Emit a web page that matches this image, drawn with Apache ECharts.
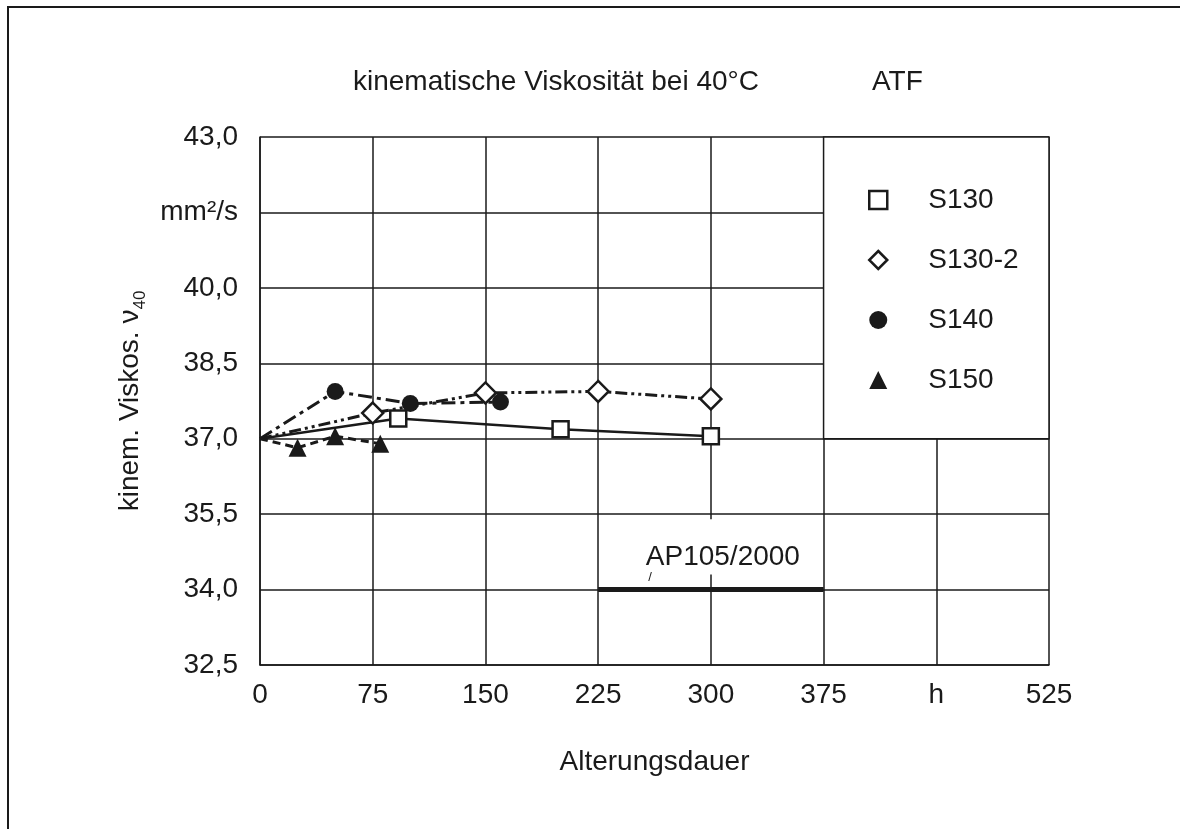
<!DOCTYPE html>
<html>
<head>
<meta charset="utf-8">
<script src="https://cdn.jsdelivr.net/npm/echarts@6/dist/echarts.min.js"></script>
<style>
  html, body { margin: 0; padding: 0; background: #fff; }
  #chart { width: 1180px; height: 829px; }
</style>
</head>
<body>
<div id="chart"></div>
<script>
// Ageing time (h) vs. kinematic viscosity at 40 °C (mm²/s)
const xTicks = [0, 75, 150, 225, 300, 375, 450, 525];
const yTicks = [32.5, 34.0, 35.5, 37.0, 38.5, 40.0, 41.5, 43.0];

const s130   = [[0, 37.0], [92, 37.40], [200, 37.19], [300, 37.05]];
const s130_2 = [[0, 37.0], [75, 37.51], [150, 37.91], [225, 37.94], [300, 37.79]];
const s140   = [[0, 37.0], [50, 37.94], [100, 37.70], [160, 37.73]];
const s150   = [[0, 37.0], [25, 36.82], [50, 37.05], [80, 36.90]];

// reference limit AP105/2000: 34.0 mm²/s between 225 h and 375 h
const apLimit = [[225, 34.0], [375, 34.0]];
const apName = 'AP105/2000';

const INK = '#1a1a1a';
const FONT = 'Liberation Sans, Arial, sans-serif';
const FS = 28;

const chart = echarts.init(document.getElementById('chart'), null, { renderer: 'canvas' });

function fmtY(v) {
  if (Math.abs(v - 41.5) < 1e-6) return 'mm²/s';
  return v.toFixed(1).replace('.', ',');
}
function fmtX(v) {
  if (v === 450) return 'h';
  return String(v);
}
// the common start value (fresh oil, 0 h) is drawn without a marker
function withBarePoint(points) {
  return points.map((p, i) => (i === 0 ? { value: p, symbol: 'none' } : p));
}

const lineBase = { type: 'line', smooth: false, z: 3 };

chart.setOption({
  animation: false,
  backgroundColor: '#fff',
  textStyle: { fontFamily: FONT, color: INK },
  graphic: [{
    type: 'rect',
    shape: { x: 8, y: 7, width: 1300, height: 1000 },
    style: { fill: 'none', stroke: INK, lineWidth: 2 },
    silent: true
  }],
  title: [
    { text: 'kinematische Viskosität bei 40°C', left: 348, top: 63,
      textStyle: { fontFamily: FONT, fontSize: FS, fontWeight: 'normal', color: INK } },
    { text: 'ATF', left: 867, top: 63,
      textStyle: { fontFamily: FONT, fontSize: FS, fontWeight: 'normal', color: INK } }
  ],
  grid: { left: 260, top: 137, right: 131, bottom: 164, containLabel: false },
  legend: {
    orient: 'vertical',
    left: 863,
    top: 181,
    itemWidth: 18,
    itemHeight: 18,
    itemGap: 32,
    textStyle: { fontFamily: FONT, fontSize: FS, color: INK, padding: [0, 0, 0, 36], lineHeight: 28 },
    data: [
      { name: 'S130', icon: 'rect', itemStyle: { color: '#fff', borderColor: INK, borderWidth: 2.5 } },
      { name: 'S130-2', icon: 'diamond', itemStyle: { color: '#fff', borderColor: INK, borderWidth: 2.5 } },
      { name: 'S140', icon: 'circle', itemStyle: { color: INK, borderWidth: 0 } },
      { name: 'S150', icon: 'triangle', itemStyle: { color: INK, borderWidth: 0 } }
    ]
  },
  xAxis: {
    type: 'value',
    min: xTicks[0], max: xTicks[xTicks.length - 1], interval: 75,
    name: 'Alterungsdauer',
    nameLocation: 'middle',
    nameGap: 83,
    nameTextStyle: { fontFamily: FONT, fontSize: FS, color: INK },
    axisLine: { show: true, lineStyle: { color: INK, width: 1.5 } },
    axisTick: { show: false },
    axisLabel: { formatter: fmtX, margin: 16, fontFamily: FONT, fontSize: FS, color: INK },
    splitLine: { show: true, lineStyle: { color: INK, width: 1.5 } }
  },
  yAxis: {
    type: 'value',
    min: yTicks[0], max: yTicks[yTicks.length - 1], interval: 1.5,
    name: '{a|kinem. Viskos. ν}{s|40}',
    nameLocation: 'middle',
    nameGap: 116,
    nameRotate: 90,
    nameTextStyle: {
      rich: {
        a: { fontFamily: FONT, fontSize: FS, color: INK, lineHeight: 34, verticalAlign: 'bottom' },
        s: { fontFamily: FONT, fontSize: 17, color: INK, lineHeight: 34, verticalAlign: 'bottom', padding: [0, 0, -5, 0] }
      }
    },
    axisLine: { show: true, lineStyle: { color: INK, width: 1.5 } },
    axisTick: { show: false },
    axisLabel: { formatter: fmtY, margin: 22, fontFamily: FONT, fontSize: FS, color: INK },
    splitLine: { show: true, lineStyle: { color: INK, width: 1.5 } }
  },
  series: [
    {
      name: apName,
      type: 'line',
      data: apLimit,
      symbol: 'none',
      z: 2,
      lineStyle: { color: INK, width: 5, type: 'solid' },
      silent: true,
      markArea: {
        silent: true,
        data: [
          // white label box above the limit bar
          [
            { xAxis: 226, yAxis: 35.4, name: apName,
              itemStyle: { color: '#fff', borderWidth: 0 },
              label: { show: true, position: 'inside', offset: [12, 16],
                       formatter: '{t|AP105/2000}\n{m|/}',
                       rich: {
                         t: { fontFamily: FONT, fontSize: FS, color: INK, lineHeight: 30 },
                         m: { fontFamily: FONT, fontSize: 13, color: INK, width: 152, align: 'left', padding: [0, 0, 0, 3], lineHeight: 12 }
                       } } },
            { xAxis: 374, yAxis: 34.3 }
          ],
          // legend panel
          [
            { xAxis: 375, yAxis: 43.0,
              itemStyle: { color: '#fff', borderColor: INK, borderWidth: 1.5 },
              label: { show: false } },
            { xAxis: 525, yAxis: 37.0 }
          ]
        ]
      }
    },
    Object.assign({}, lineBase, {
      name: 'S130', data: withBarePoint(s130), symbol: 'rect', symbolSize: 16,
      itemStyle: { color: '#fff', borderColor: INK, borderWidth: 2.5 },
      lineStyle: { color: INK, width: 2.5, type: 'solid' }
    }),
    Object.assign({}, lineBase, {
      name: 'S130-2', data: withBarePoint(s130_2), symbol: 'diamond', symbolSize: 21,
      itemStyle: { color: '#fff', borderColor: INK, borderWidth: 2.5 },
      lineStyle: { color: INK, width: 3, type: [12, 4, 3, 4, 3, 4] }
    }),
    Object.assign({}, lineBase, {
      name: 'S140', data: withBarePoint(s140), symbol: 'circle', symbolSize: 17,
      itemStyle: { color: INK, borderWidth: 0 },
      lineStyle: { color: INK, width: 3, type: [14, 5, 4, 5] }
    }),
    Object.assign({}, lineBase, {
      name: 'S150', data: withBarePoint(s150), symbol: 'triangle', symbolSize: 18,
      itemStyle: { color: INK, borderWidth: 0 },
      lineStyle: { color: INK, width: 3, type: [8, 5] }
    })
  ]
});
</script>
</body>
</html>
